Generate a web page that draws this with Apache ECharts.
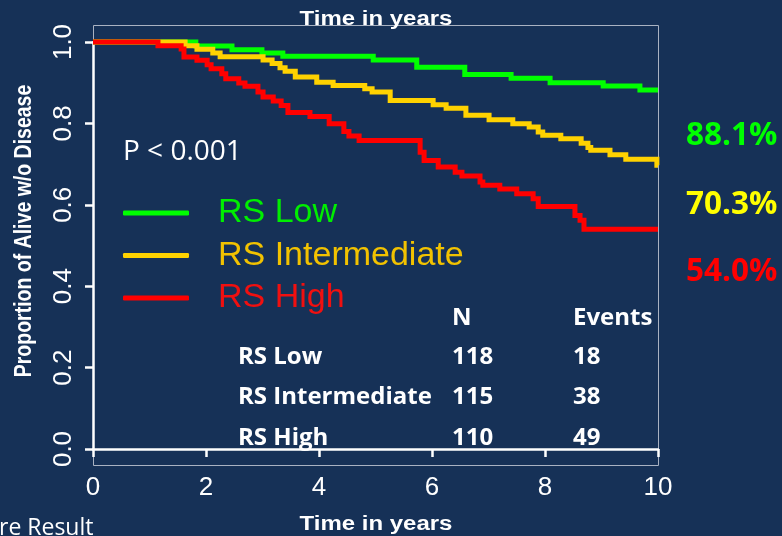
<!DOCTYPE html>
<html>
<head>
<meta charset="utf-8">
<script src="https://cdn.jsdelivr.net/npm/echarts@6/dist/echarts.min.js"></script>
<style>
html,body{margin:0;padding:0;background:#163157;}
#c{width:782px;height:536px;}
</style>
</head>
<body>
<div id="c"></div>
<script>
// ---- data ----
var seriesNames = ['RS Low', 'RS Intermediate', 'RS High'];
var lowTimes = [0, 1.82, 2.46, 2.99, 3.36, 4.96, 5.73, 6.58, 7.40, 8.09, 9.03, 9.68, 10];
var lowSurv  = [1, 0.990, 0.981, 0.973, 0.965, 0.956, 0.938, 0.920, 0.911, 0.900, 0.892, 0.882, 0.882];
var intTimes = [0, 1.63, 1.84, 2.12, 2.25, 3.01, 3.17, 3.31, 3.40, 3.58, 3.96, 4.25, 4.81, 4.94, 5.26, 6.02, 6.25, 6.60, 7.01, 7.43, 7.72, 7.88, 7.96, 8.28, 8.64, 8.76, 8.81, 9.15, 9.43, 9.98, 10];
var intSurv  = [1, 0.991, 0.982, 0.973, 0.964, 0.956, 0.947, 0.937, 0.928, 0.914, 0.901, 0.893, 0.885, 0.877, 0.856, 0.846, 0.837, 0.820, 0.809, 0.799, 0.791, 0.779, 0.771, 0.762, 0.751, 0.741, 0.734, 0.723, 0.712, 0.697, 0.697];
var highTimes = [0, 1.15, 1.56, 1.61, 1.84, 2.02, 2.09, 2.28, 2.35, 2.58, 2.69, 2.92, 3.01, 3.19, 3.33, 3.45, 3.84, 4.18, 4.44, 4.53, 4.71, 5.79, 5.86, 6.11, 6.41, 6.53, 6.85, 6.90, 7.20, 7.50, 7.79, 7.88, 8.53, 8.62, 8.69, 10];
var highSurv  = [1, 0.991, 0.983, 0.963, 0.955, 0.944, 0.934, 0.922, 0.910, 0.899, 0.891, 0.877, 0.865, 0.855, 0.844, 0.827, 0.817, 0.799, 0.780, 0.769, 0.758, 0.729, 0.709, 0.693, 0.680, 0.671, 0.656, 0.648, 0.639, 0.627, 0.615, 0.596, 0.574, 0.562, 0.540, 0.540];
var xTicks = [0, 2, 4, 6, 8, 10];
var yTickLabels = ['0.0', '0.2', '0.4', '0.6', '0.8', '1.0'];
var finalRates = ['88.1%', '70.3%', '54.0%'];
var tableHeader = ['N', 'Events'];
var tableN = ['118', '115', '110'];
var tableEvents = ['18', '38', '49'];
var pValueText = 'P < 0.001';
var axisTitle = 'Time in years';
var yTitle = 'Proportion of Alive w/o Disease';
var footText = 're Result';

// ---- styles ----
var lineColors = ['#00ff00', '#ffd200', '#ff0000'];
var legendTextColors = ['#00ee00', '#f2c200', '#f01010'];
var rateColors = ['#00ff00', '#ffff00', '#ff0000'];
var calibri = '"Open Sans", "Noto Sans", sans-serif';
var arial = '"Liberation Sans", Arial, sans-serif';

function zip(t, s) { return t.map(function (v, i) { return [v, s[i]]; }); }
var allData = [zip(lowTimes, lowSurv), zip(intTimes, intSurv), zip(highTimes, highSurv)];

var chart = echarts.init(document.getElementById('c'), null, {renderer: 'canvas'});

var graphics = [
  {type: 'rect', z: 0, silent: true, shape: {x: 93.5, y: 25.5, width: 565, height: 440},
   style: {fill: null, stroke: '#a9b2c2', lineWidth: 1}},
  {type: 'text', z: 10, x: 376, y: 19.5, scaleX: 1.23,
   style: {text: axisTitle, font: 'bold 19.5px ' + arial, fill: '#ffffff', align: 'center', verticalAlign: 'middle'}},
  {type: 'text', z: 10, x: 376, y: 525, scaleX: 1.23,
   style: {text: axisTitle, font: 'bold 19.5px ' + arial, fill: '#ffffff', align: 'center', verticalAlign: 'middle'}},
  {type: 'text', z: 10, x: 24, y: 231, rotation: Math.PI / 2, scaleY: 1.23,
   style: {text: yTitle, font: 'bold 19.5px ' + arial, fill: '#ffffff', align: 'center', verticalAlign: 'middle'}},
  {type: 'text', z: 10, x: 123, y: 152,
   style: {text: pValueText, font: '28px ' + calibri, fill: '#ffffff', align: 'left', verticalAlign: 'middle'}},
  {type: 'text', z: 10, x: -1, y: 528,
   style: {text: footText, font: '23px ' + calibri, fill: '#ffffff', align: 'left', verticalAlign: 'middle'}},
  {type: 'text', z: 10, x: 452, y: 318,
   style: {text: tableHeader[0], font: 'bold 24px ' + calibri, fill: '#ffffff', align: 'left', verticalAlign: 'middle'}},
  {type: 'text', z: 10, x: 573, y: 318,
   style: {text: tableHeader[1], font: 'bold 24px ' + calibri, fill: '#ffffff', align: 'left', verticalAlign: 'middle'}}
];
var rowY = [357, 397.5, 438];
var rateY = [136, 205.5, 272.5];
for (var i = 0; i < 3; i++) {
  graphics.push({type: 'text', z: 10, x: 238, y: rowY[i],
    style: {text: seriesNames[i], font: 'bold 24px ' + calibri, fill: '#ffffff', align: 'left', verticalAlign: 'middle'}});
  graphics.push({type: 'text', z: 10, x: 452, y: rowY[i],
    style: {text: tableN[i], font: 'bold 24px ' + calibri, fill: '#ffffff', align: 'left', verticalAlign: 'middle'}});
  graphics.push({type: 'text', z: 10, x: 573, y: rowY[i],
    style: {text: tableEvents[i], font: 'bold 24px ' + calibri, fill: '#ffffff', align: 'left', verticalAlign: 'middle'}});
  graphics.push({type: 'text', z: 10, x: 686, y: rateY[i],
    style: {text: finalRates[i], font: 'bold 31.5px ' + calibri, fill: rateColors[i], align: 'left', verticalAlign: 'middle'}});
}

var option = {
  backgroundColor: '#163157',
  animation: false,
  grid: {left: 93, right: 124, top: 42, bottom: 87},
  xAxis: {
    type: 'value', min: 0, max: 10, interval: 2, offset: 17,
    splitLine: {show: false},
    axisLine: {show: true, lineStyle: {color: '#ffffff', width: 2.5}},
    axisTick: {show: true, length: 8, lineStyle: {color: '#ffffff', width: 2.5}},
    axisLabel: {color: '#ffffff', fontSize: 26, fontFamily: arial, margin: 9,
      formatter: function (v) { return xTicks.indexOf(v) >= 0 ? String(v) : ''; }}
  },
  yAxis: {
    type: 'value', min: 0, max: 1, interval: 0.2,
    splitLine: {show: false},
    axisLine: {show: true, lineStyle: {color: '#ffffff', width: 2.5}},
    axisTick: {show: true, length: 8, lineStyle: {color: '#ffffff', width: 2.5}},
    axisLabel: {color: '#ffffff', fontSize: 26, fontFamily: arial, rotate: 90, margin: 16,
      formatter: function (v) { return yTickLabels[Math.round(v * 5)]; }}
  },
  legend: {
    orient: 'vertical', left: 123, top: 194.5, padding: 0, itemGap: 5.5,
    itemWidth: 66, itemHeight: 5, icon: 'roundRect',
    data: seriesNames.map(function (n, i) {
      return {name: n, textStyle: {color: legendTextColors[i]}};
    }),
    textStyle: {fontSize: 34, fontFamily: arial, lineHeight: 32, padding: [5, 0, 0, 24]}
  },
  series: seriesNames.map(function (n, i) {
    return {
      name: n, type: 'line', step: 'end', data: allData[i], symbol: 'none', clip: false,
      color: lineColors[i], z: 3 + i,
      lineStyle: {color: lineColors[i], width: 5, cap: 'butt', join: 'miter'}
    };
  }),
  graphic: graphics
};
chart.setOption(option);
</script>
</body>
</html>
